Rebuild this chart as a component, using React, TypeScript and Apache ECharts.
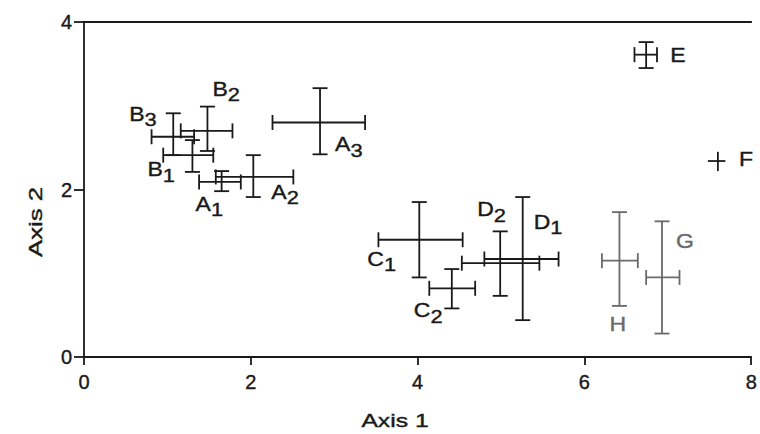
import React, { useEffect, useRef } from "react";
import * as echarts from "echarts";

// ---- data ----
const letters = ["A", "A", "A", "B", "B", "B", "C", "C", "D", "D", "E", "F", "G", "H"];
const subs = ["1", "2", "3", "1", "2", "3", "1", "2", "1", "2", "", "", "", ""];
const xMean = [1.65, 2.03, 2.83, 1.3, 1.48, 1.07, 4.02, 4.41, 5.26, 4.99, 6.74, 7.6, 6.93, 6.42];
const xLow = [1.38, 1.58, 2.26, 0.95, 1.16, 0.81, 3.53, 4.14, 4.8, 4.53, 6.6, 7.48, 6.74, 6.21];
const xHigh = [1.88, 2.51, 3.37, 1.55, 1.78, 1.32, 4.54, 4.69, 5.69, 5.46, 6.87, 7.69, 7.14, 6.64];
const yMean = [2.09, 2.15, 2.8, 2.41, 2.7, 2.63, 1.4, 0.82, 1.17, 1.12, 3.61, 2.34, 0.95, 1.15];
const yLow = [1.98, 1.91, 2.42, 2.21, 2.46, 2.41, 0.95, 0.58, 0.44, 0.73, 3.45, 2.22, 0.28, 0.61];
const yHigh = [2.22, 2.41, 3.21, 2.59, 2.99, 2.91, 1.85, 1.05, 1.91, 1.5, 3.76, 2.45, 1.62, 1.73];
const shade = ["dark", "dark", "dark", "dark", "dark", "dark", "dark", "dark", "dark", "dark", "dark", "dark", "gray", "gray"];
const hasCaps = [true, true, true, true, true, true, true, true, true, true, true, false, true, true];

const xTickValues = [0, 2, 4, 6, 8];
const yTickValues = [0, 2, 4];
const xTitle = "Axis 1";
const yTitle = "Axis 2";

// label placement (pixel offsets from the point centre) – layout, not data
const labelOffsets: [number, number][] = [
  [-26, 15], [18, 8], [15, 15], [-45, 7], [5, -49], [-44, -30],
  [-52, 12], [-38, 15], [11, -44], [-23, -61], [24, -7], [21, -9],
  [14, -43], [-10, 56],
];

const DARK = "#1a1a1a";
const GRAY = "#6a6a6a";
const FONT = '"Liberation Sans", Arial, Helvetica, sans-serif';

export default function App() {
  const ref = useRef<HTMLDivElement>(null);

  useEffect(() => {
    if (!ref.current) return;
    const chart = echarts.init(ref.current, undefined, { renderer: "svg" });

    const data = letters.map((_, i) => [xMean[i], yMean[i], xLow[i], xHigh[i], yLow[i], yHigh[i]]);

    const axisLineStyle = { color: DARK, width: 1.8 };
    const tickLabel = {
      show: true,
      fontSize: 20,
      fontFamily: FONT,
      color: DARK,
      textBorderColor: DARK,
      textBorderWidth: 0.4,
    };

    chart.setOption({
      animation: false,
      backgroundColor: "#ffffff",
      grid: { left: 84, right: 5, top: 22, bottom: 77, containLabel: false },
      xAxis: [
        {
          type: "value",
          min: xTickValues[0],
          max: xTickValues[xTickValues.length - 1],
          interval: xTickValues[1] - xTickValues[0],
          position: "bottom",
          axisLine: { show: true, lineStyle: axisLineStyle },
          axisTick: { show: true, inside: false, length: 8, lineStyle: axisLineStyle },
          axisLabel: { ...tickLabel, margin: 15 },
          splitLine: { show: false },
        },
        {
          type: "value",
          min: xTickValues[0],
          max: xTickValues[xTickValues.length - 1],
          position: "top",
          axisLine: { show: true, lineStyle: axisLineStyle },
          axisTick: { show: false },
          axisLabel: { show: false },
          splitLine: { show: false },
        },
      ],
      yAxis: {
        type: "value",
        min: yTickValues[0],
        max: yTickValues[yTickValues.length - 1],
        interval: yTickValues[1] - yTickValues[0],
        axisLine: { show: true, lineStyle: axisLineStyle },
        axisTick: { show: true, inside: false, length: 10, lineStyle: axisLineStyle },
        axisLabel: { ...tickLabel, margin: 12 },
        splitLine: { show: false },
      },
      graphic: [
        {
          type: "text",
          x: 395,
          y: 421,
          scaleX: 1.3,
          style: {
            text: xTitle,
            font: `19px ${FONT}`,
            fill: DARK,
            stroke: DARK,
            lineWidth: 0.4,
            align: "center",
            verticalAlign: "middle",
          },
        },
        {
          type: "text",
          x: 36,
          y: 222,
          rotation: Math.PI / 2,
          scaleX: 1.35,
          style: {
            text: yTitle,
            font: `19px ${FONT}`,
            fill: DARK,
            stroke: DARK,
            lineWidth: 0.4,
            align: "center",
            verticalAlign: "middle",
          },
        },
      ],
      series: [
        {
          type: "custom",
          xAxisIndex: 0,
          yAxisIndex: 0,
          clip: false,
          data,
          renderItem: (params: any, api: any) => {
            const i = params.dataIndex;
            const c = api.coord([api.value(0), api.value(1)]);
            const xl = api.coord([api.value(2), api.value(1)]);
            const xh = api.coord([api.value(3), api.value(1)]);
            const yl = api.coord([api.value(0), api.value(4)]);
            const yh = api.coord([api.value(0), api.value(5)]);
            const color = shade[i] === "gray" ? GRAY : DARK;
            const st = { stroke: color, lineWidth: 1.8, fill: "none" };
            const h = hasCaps[i] ? 7.5 : 0;
            const children: any[] = [
              { type: "line", shape: { x1: xl[0], y1: c[1], x2: xh[0], y2: c[1] }, style: st },
              { type: "line", shape: { x1: c[0], y1: yl[1], x2: c[0], y2: yh[1] }, style: st },
            ];
            if (h > 0) {
              children.push(
                { type: "line", shape: { x1: xl[0], y1: c[1] - h, x2: xl[0], y2: c[1] + h }, style: st },
                { type: "line", shape: { x1: xh[0], y1: c[1] - h, x2: xh[0], y2: c[1] + h }, style: st },
                { type: "line", shape: { x1: c[0] - h, y1: yl[1], x2: c[0] + h, y2: yl[1] }, style: st },
                { type: "line", shape: { x1: c[0] - h, y1: yh[1], x2: c[0] + h, y2: yh[1] }, style: st }
              );
            }
            const [dx, dy] = labelOffsets[i];
            const txt = subs[i] ? `{m|${letters[i]}}{s|${subs[i]}}` : `{m|${letters[i]}}`;
            const common = {
              fontFamily: FONT,
              lineHeight: 20,
              verticalAlign: "top",
              fill: color,
              stroke: color,
              lineWidth: 0.4,
            };
            children.push({
              type: "text",
              x: c[0] + dx,
              y: c[1] + dy - 3,
              scaleX: 1.15,
              style: {
                text: txt,
                align: "left",
                verticalAlign: "top",
                fill: color,
                stroke: color,
                lineWidth: 0.4,
                rich: {
                  m: { ...common, fontSize: 20 },
                  s: { ...common, fontSize: 19, padding: [6, 0, 0, 0] },
                },
              },
            });
            return { type: "group", children };
          },
        },
      ],
    });

    return () => chart.dispose();
  }, []);

  return <div ref={ref} style={{ width: 760, height: 434, position: "absolute", left: 0, top: 0 }} />;
}
